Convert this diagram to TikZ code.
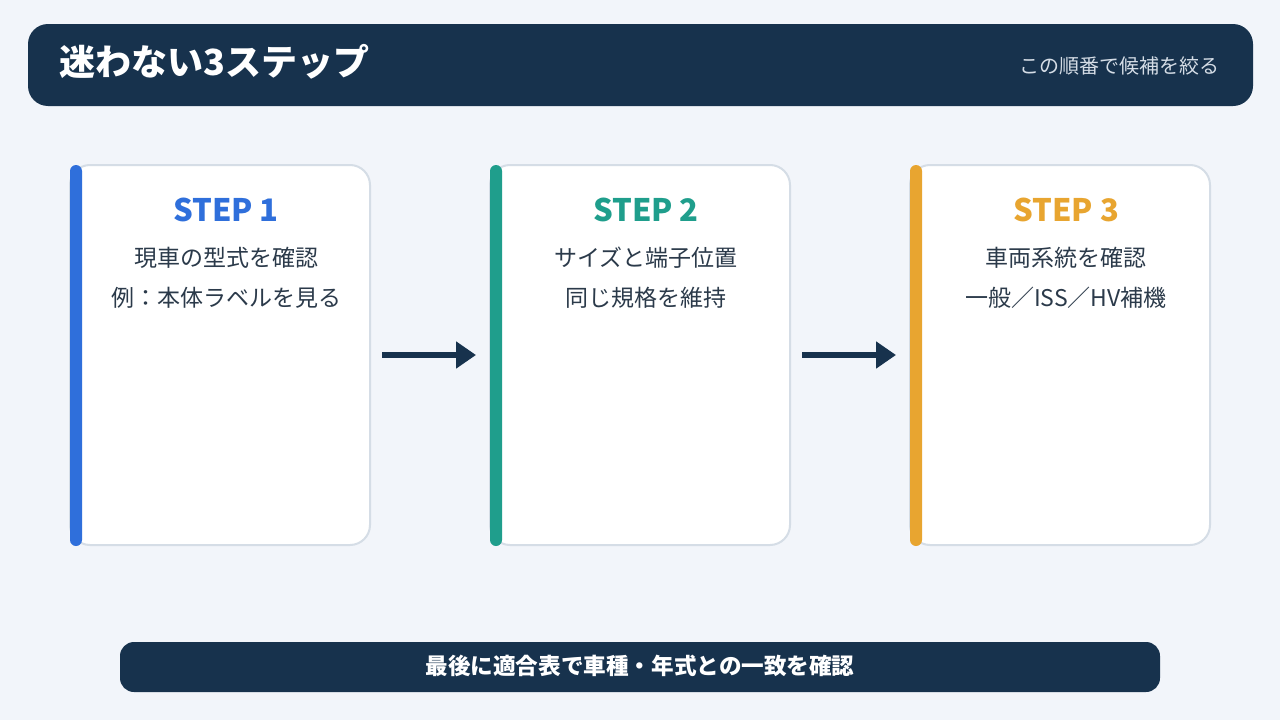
\documentclass[tikz,border=0pt]{standalone}
\usepackage{fontspec}
\setmainfont{Noto Sans CJK JP}
\usetikzlibrary{arrows.meta}
\definecolor{navy}{HTML}{17324D}
\definecolor{bg}{HTML}{F2F5FA}
\definecolor{bd}{HTML}{D5DDE6}
\definecolor{cblue}{HTML}{2F6FDB}
\definecolor{cgreen}{HTML}{1F9E8C}
\definecolor{corange}{HTML}{E8A530}
\definecolor{txt}{HTML}{2B3A4A}
\begin{document}
\begin{tikzpicture}[x=1pt,y=-1pt,
  card/.style={fill=white,draw=bd,line width=2pt,rounded corners=20pt},
  bar/.style={rounded corners=6pt},
  steptitle/.style={font=\bfseries\fontsize{31}{35}\selectfont},
  body/.style={text=txt,font=\fontsize{23}{27}\selectfont},
  arr/.style={draw=navy,line width=6pt,-{Triangle[length=20pt,width=26pt]}}]
\useasboundingbox[fill=bg] (0,0) rectangle (1280,720);
\fill[navy,rounded corners=20pt] (28,24) rectangle (1253,106);
\node[anchor=west,text=white,font=\bfseries\fontsize{36}{40}\selectfont] (title) at (56,62) {迷わない3ステップ};
\node[anchor=east,text=bd,font=\fontsize{20}{24}\selectfont] (sub) at (1223,66) {この順番で候補を絞る};
\foreach \x/\c/\n/\a/\b in {70/cblue/1/現車の型式を確認/例：本体ラベルを見る,490/cgreen/2/サイズと端子位置/同じ規格を維持,910/corange/3/車両系統を確認/一般／ISS／HV補機}{
  \draw[card] (\x,165) rectangle ++(300,380);
  \fill[\c,bar] (\x,165) rectangle ++(12,381);
  \node[steptitle,text=\c] (s\n) at (\x+156,210) {STEP \n};
  \node[body] (a\n) at (\x+156,258) {\a};
  \node[body] (b\n) at (\x+156,298) {\b};
}
\coordinate (p1) at (382,355); \coordinate (q1) at (476,355);
\coordinate (p2) at (802,355); \coordinate (q2) at (896,355);
\draw[arr] (p1) -- (q1);
\draw[arr] (p2) -- (q2);
\fill[navy,rounded corners=14pt] (120,642) rectangle (1160,692);
\node[text=white,font=\bfseries\fontsize{22.6}{26}\selectfont] (foot) at (640,666) {最後に適合表で車種・年式との一致を確認};
\end{tikzpicture}
\end{document}
